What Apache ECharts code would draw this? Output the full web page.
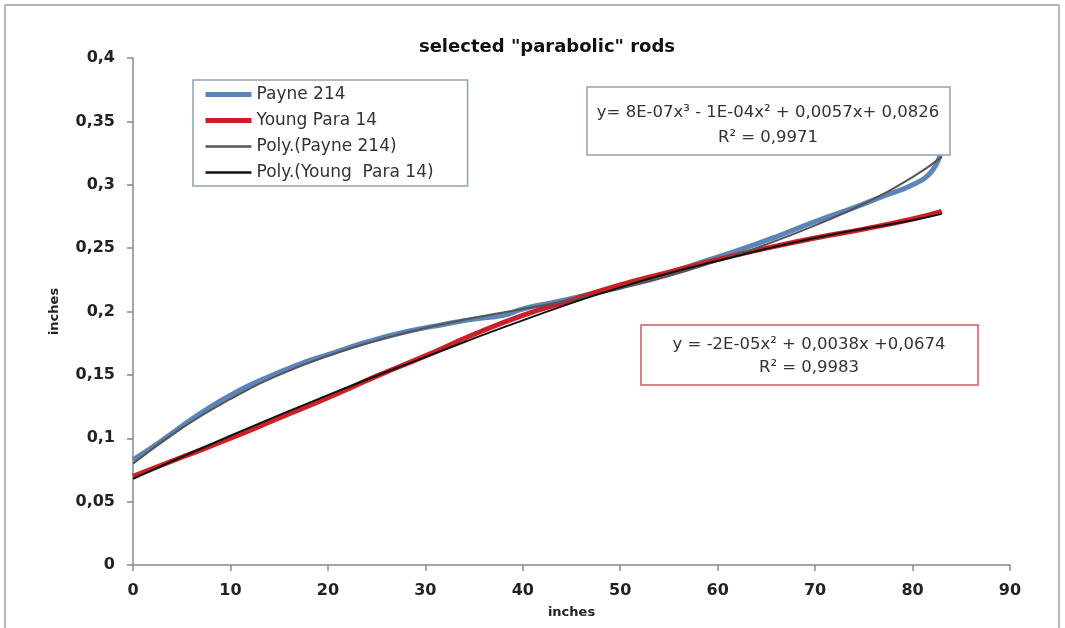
<!DOCTYPE html>
<html>
<head>
<meta charset="utf-8">
<script src="https://cdn.jsdelivr.net/npm/echarts@6/dist/echarts.min.js"></script>
<style>
html,body{margin:0;padding:0;background:#fff;}
#main{width:1065px;height:628px;}
</style>
</head>
<body>
<div id="main"></div>
<script>
const payneX = [0, 2, 4, 6, 8, 10, 12, 15, 18, 20, 24, 28, 32, 35, 38, 40, 43, 46, 50, 54, 58, 62, 66, 70, 74, 77, 80, 82, 83];
const payneY = [0.083, 0.093, 0.104, 0.115, 0.125, 0.134, 0.142, 0.152, 0.161, 0.166, 0.176, 0.184, 0.190, 0.194, 0.197, 0.202, 0.207, 0.212, 0.220, 0.228, 0.238, 0.248, 0.259, 0.271, 0.282, 0.291, 0.300, 0.311, 0.328];
const youngX = [0, 5, 10, 15, 20, 25, 30, 35, 40, 45, 50, 55, 60, 65, 70, 75, 80, 83];
const youngY = [0.070, 0.085, 0.100, 0.116, 0.132, 0.149, 0.165, 0.182, 0.197, 0.209, 0.221, 0.231, 0.241, 0.250, 0.258, 0.265, 0.273, 0.279];
// trendlines as drawn
const trendPX = [0, 5, 10, 15, 20, 25, 30, 35, 40, 45, 50, 55, 60, 65, 70, 75, 80, 83];
const trendPY = [0.080, 0.108, 0.131, 0.150, 0.165, 0.177, 0.187, 0.195, 0.202, 0.209, 0.218, 0.228, 0.240, 0.253, 0.268, 0.285, 0.306, 0.322];
const trendYX = [0, 10, 20, 30, 40, 50, 60, 70, 80, 83];
const trendYY = [0.068, 0.102, 0.134, 0.164, 0.193, 0.219, 0.240, 0.258, 0.272, 0.277];

const names = ['Payne 214', 'Young Para 14', 'Poly.(Payne 214)', 'Poly.(Young  Para 14)'];
const eqPayne = ['y= 8E-07x³ - 1E-04x² + 0,0057x+ 0,0826', 'R² = 0,9971'];
const eqYoung = ['y = -2E-05x² + 0,0038x +0,0674', 'R² = 0,9983'];

const pairs = (xs, ys) => xs.map((x, i) => [x, ys[i]]);
const font = '"DejaVu Sans", sans-serif';

let myChart = echarts.init(document.getElementById('main'));
let option = {
    animation: false,
    title: {
        text: 'selected "parabolic" rods',
        left: 542, top: 33, textAlign: 'center',
        textStyle: {fontFamily: font, fontSize: 18, fontWeight: 'bold', color: '#111'}
    },
    grid: {left: 133, right: 55, top: 58, bottom: 63},
    legend: {
        orient: 'vertical',
        left: 193, top: 80,
        data: [
            {name: names[0], lineStyle: {width: 5}},
            {name: names[1], lineStyle: {width: 5}},
            {name: names[2], lineStyle: {width: 2.5}},
            {name: names[3], lineStyle: {width: 2.5}}
        ],
        itemWidth: 46, itemHeight: 14, itemGap: 9,
        padding: [6, 34, 5, 10],
        borderColor: '#8ea3b6', borderWidth: 1.5,
        itemStyle: {opacity: 0},
        textStyle: {fontFamily: font, fontSize: 17, color: '#333'}
    },
    xAxis: {
        type: 'value', min: 0, max: 90, interval: 10,
        name: 'inches', nameLocation: 'middle', nameGap: 41,
        nameTextStyle: {fontFamily: font, fontSize: 13, fontWeight: 'bold', color: '#222'},
        axisLine: {lineStyle: {color: '#888', width: 1.5}},
        axisTick: {length: 6, lineStyle: {color: '#888', width: 1.5}},
        axisLabel: {margin: 18, fontFamily: font, fontSize: 16, fontWeight: 'bold', color: '#222'},
        splitLine: {show: false}
    },
    yAxis: {
        type: 'value', min: 0, max: 0.4, interval: 0.05,
        name: 'inches', nameLocation: 'middle', nameGap: 72, nameRotate: 90,
        nameTextStyle: {fontFamily: font, fontSize: 13, fontWeight: 'bold', color: '#222'},
        axisLine: {show: true, lineStyle: {color: '#888', width: 1.5}},
        axisTick: {show: true, length: 6, lineStyle: {color: '#888', width: 1.5}},
        axisLabel: {
            margin: 18, fontFamily: font, fontSize: 16, fontWeight: 'bold', color: '#222',
            formatter: v => String(+v.toFixed(2)).replace('.', ',')
        },
        splitLine: {show: false}
    },
    series: [
        {name: names[0], type: 'line', smooth: true, symbol: 'none',
         lineStyle: {color: '#5b84b8', width: 5}, itemStyle: {color: '#5b84b8'},
         data: pairs(payneX, payneY)},
        {name: names[1], type: 'line', smooth: true, symbol: 'none',
         lineStyle: {color: '#cc1f26', width: 5}, itemStyle: {color: '#cc1f26'},
         data: pairs(youngX, youngY)},
        {name: names[2], type: 'line', smooth: true, symbol: 'none',
         lineStyle: {color: '#555', width: 2}, itemStyle: {color: '#555'},
         data: pairs(trendPX, trendPY)},
        {name: names[3], type: 'line', smooth: true, symbol: 'none',
         lineStyle: {color: '#111', width: 2}, itemStyle: {color: '#111'},
         data: pairs(trendYX, trendYY)}
    ],
    graphic: [
        {type: 'rect', shape: {x: 5, y: 5, width: 1054, height: 640},
         style: {fill: 'none', stroke: '#a0a0a0', lineWidth: 1.5}, silent: true},
        {type: 'rect', shape: {x: 587, y: 87, width: 363, height: 68},
         style: {fill: '#fff', stroke: '#8ea3b6', lineWidth: 1.5}, z: 10},
        {type: 'text', x: 768, y: 100, z: 11,
         style: {text: eqPayne.join('\n'), align: 'center', verticalAlign: 'top', lineHeight: 25,
                 font: '16.5px ' + font, fill: '#333'}},
        {type: 'rect', shape: {x: 641, y: 325, width: 337, height: 60},
         style: {fill: '#fff', stroke: '#d0585c', lineWidth: 1.5}, z: 10},
        {type: 'text', x: 809, y: 333, z: 11,
         style: {text: eqYoung.join('\n'), align: 'center', verticalAlign: 'top', lineHeight: 23,
                 font: '16.5px ' + font, fill: '#333'}}
    ]
};
myChart.setOption(option);
</script>
</body>
</html>
